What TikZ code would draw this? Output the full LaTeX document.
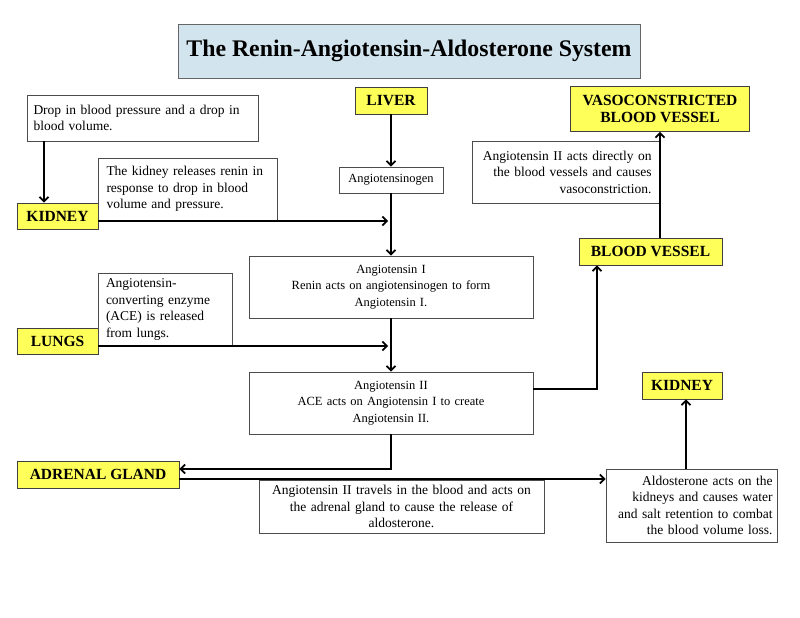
\documentclass[tikz,border=0pt]{standalone}
\usepackage{fontspec}
\setmainfont{Liberation Serif}
\usetikzlibrary{arrows.meta}
\definecolor{yel}{RGB}{255,255,90}
\definecolor{ttl}{RGB}{210,228,237}
\begin{document}
\begin{tikzpicture}[x=1pt,y=-1pt,
  lbl/.style={draw=black!75, line width=0.9pt, fill=yel, inner sep=0pt, align=center,
    font=\fontsize{15.5}{17}\selectfont\bfseries},
  txt/.style={draw=black!70, line width=0.8pt, fill=white, inner sep=0pt,
    font=\fontsize{13.5}{16.5}\selectfont},
  small/.style={font=\fontsize{12.5}{16.5}\selectfont},
  arr/.style={line width=1.7pt, -{Straight Barb[length=4.5pt,width=9pt]}},
  ln/.style={line width=1.7pt}]
\fill[white] (0,0) rectangle (800,618);
\useasboundingbox (0,0) rectangle (800,618);

% title
\node[draw=black!60, line width=0.9pt, fill=ttl, minimum width=462, minimum height=54,
  inner sep=0pt, font=\fontsize{23.8}{26}\selectfont\bfseries] (title) at (409,51)
  {\raisebox{5pt}{The Renin-Angiotensin-Aldosterone System}};

% yellow labels
\node[lbl, minimum width=72, minimum height=27] (liver) at (391,100.5) {LIVER};
\node[lbl, minimum width=179, minimum height=45] (vaso) at (660,109) {VASOCONSTRICTED\\BLOOD VESSEL};
\node[lbl, minimum width=81, minimum height=26] (kidL) at (57.5,216) {KIDNEY};
\node[lbl, minimum width=143, minimum height=27] (bv) at (650.5,251.5) {BLOOD VESSEL};
\node[lbl, minimum width=81, minimum height=26] (lungs) at (57.5,341) {LUNGS};
\node[lbl, minimum width=80, minimum height=27] (kidR) at (682,385.5) {KIDNEY};
\node[lbl, minimum width=162, minimum height=27] (adrenal) at (98,474.5) {ADRENAL GLAND};

% text boxes
\node[txt, minimum width=231, minimum height=46, text width=218, align=left] (drop) at (142.5,118)
  {Drop in blood pressure and a drop in\\blood volume.};
\node[txt, minimum width=179, minimum height=62, text width=162, align=left] (renin) at (187.5,189)
  {The kidney releases renin in\\response to drop in blood\\volume and pressure.};
\node[txt, small, minimum width=104, minimum height=26] (agen) at (391,180) {Angiotensinogen};
\node[txt, minimum width=187, minimum height=62, text width=172, align=right] (direct) at (565.5,172)
  {Angiotensin II acts directly on\\the blood vessels and causes\\vasoconstriction.};
\node[txt, small, minimum width=284, minimum height=62, text width=270, align=center] (ang1) at (391,287)
  {Angiotensin I\\Renin acts on angiotensinogen to form\\Angiotensin I.};
\node[txt, minimum width=134, minimum height=72, text width=118, align=left] (ace) at (165,309.5)
  {Angiotensin-\\converting enzyme\\(ACE) is released\\from lungs.};
\node[txt, small, minimum width=284, minimum height=62, text width=270, align=center] (ang2) at (391,403)
  {Angiotensin II\\ACE acts on Angiotensin I to create\\Angiotensin II.};
\node[txt, minimum width=285, minimum height=53, text width=275, align=center] (travel) at (401.5,506.5)
  {Angiotensin II travels in the blood and acts on\\the adrenal gland to cause the release of\\aldosterone.};
\node[txt, minimum width=171, minimum height=73, text width=162, align=right] (aldo) at (691.5,505.5)
  {Aldosterone acts on the\\kidneys and causes water\\and salt retention to combat\\the blood volume loss.};

% helper coordinates
\coordinate (xa) at (44,0);
\coordinate (xv) at (660,0);
\coordinate (xb) at (597,0);
\coordinate (xk) at (686,0);
\coordinate (k1) at (388,221);
\coordinate (l1) at (388,346);
\coordinate (b1) at (391,469);
\coordinate (b2) at (597,389);

% connectors
\draw[arr] (xa |- drop.south) -- (xa |- kidL.north);
\draw[arr] (liver) -- (agen);
\draw[arr] (agen) -- (ang1);
\draw[arr] (kidL.east |- k1) -- (k1);
\draw[arr] (lungs.east |- l1) -- (l1);
\draw[arr] (ang1) -- (ang2);
\draw[arr] (xv |- bv.north) -- (xv |- vaso.south);
\draw[arr] (ang2.east |- b2) -- (b2) -- (xb |- bv.south);
\draw[arr] (ang2.south) -- (b1) -- (adrenal.east |- b1);
\draw[arr] (adrenal.east |- 0,479) -- (aldo.west |- 0,479);
\draw[arr] (xk |- aldo.north) -- (xk |- kidR.south);
\end{tikzpicture}
\end{document}
